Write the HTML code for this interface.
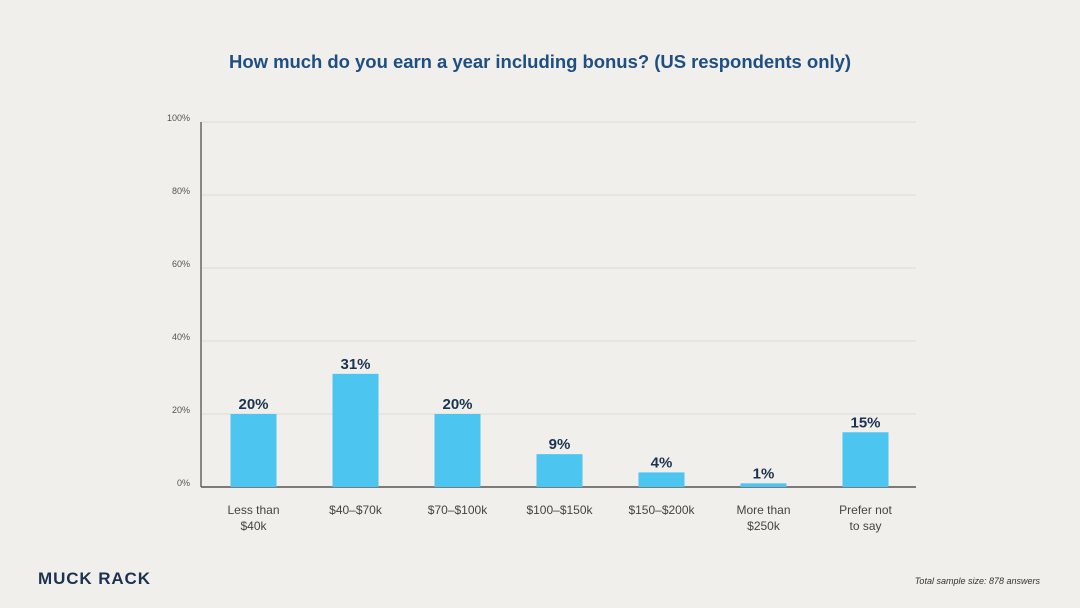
<!DOCTYPE html>
<html><head><meta charset="utf-8"><style>
body{margin:0;background:#f0efeb;}
svg{display:block;font-family:"Liberation Sans",sans-serif;}
</style></head><body>
<svg id="c" width="1080" height="608" viewBox="0 0 1080 608">
<text x="540" y="68" text-anchor="middle" font-size="18.5" font-weight="bold" fill="#1f4f82" textLength="622">How much do you earn a year including bonus? (US respondents only)</text>
<g id="grid"></g><g id="bars"></g>
<text x="1040" y="584" text-anchor="end" font-size="9" font-style="italic" fill="#333">Total sample size: 878 answers</text>
<text x="38" y="584" font-size="17" font-weight="bold" fill="#1b3350" textLength="112">MUCK RACK</text>
</svg>
<script>
const categories=[["Less than","$40k"],["$40–$70k"],["$70–$100k"],["$100–$150k"],["$150–$200k"],["More than","$250k"],["Prefer not","to say"]];
const values=[20,31,20,9,4,1,15];
const ticks=[0,20,40,60,80,100];
const ns="http://www.w3.org/2000/svg";
const x0=201,x1=916,yb=487,yt=122,first=253.5,step=102,bw=46;
const y=v=>yb-(v/100)*(yb-yt);
const xc=i=>first+i*step;
function mk(t,a,p){const e=document.createElementNS(ns,t);for(const k in a)e.setAttribute(k,a[k]);p.appendChild(e);return e;}
const g=document.getElementById('grid'),b=document.getElementById('bars');
ticks.forEach(t=>{
 if(t>0){const l=mk('line',{x1:x0,x2:x1,y1:y(t),y2:y(t),stroke:'#dcdbd6','stroke-width':1},g);
 
 }
 const tx=mk('text',{x:190,y:y(t)-1,'text-anchor':'end','font-size':9,fill:'#555'},g);tx.textContent=t+'%';
 
 
});
const ax=mk('line',{x1:x0,x2:x0,y1:yt,y2:yb,stroke:'#666','stroke-width':1.5},g);


const xa=mk('line',{x1:x0,x2:x1,y1:yb,y2:yb,stroke:'#555','stroke-width':1.5},g);


values.forEach((v,i)=>{
 const r=mk('rect',{x:xc(i)-bw/2,y:y(v),width:bw,height:yb-y(v),fill:'#4dc5f1'},b);
 
 
 const t=mk('text',{x:xc(i),y:y(v)-5,'text-anchor':'middle','font-size':15,'font-weight':'bold',fill:'#1b3350'},b);t.textContent=v+'%';
 
 
 categories[i].forEach((s,j)=>{const c=mk('text',{x:xc(i),y:514+j*16,'text-anchor':'middle','font-size':12,fill:'#444'},b);c.textContent=s;
 
 });
});
</script>
</body></html>
